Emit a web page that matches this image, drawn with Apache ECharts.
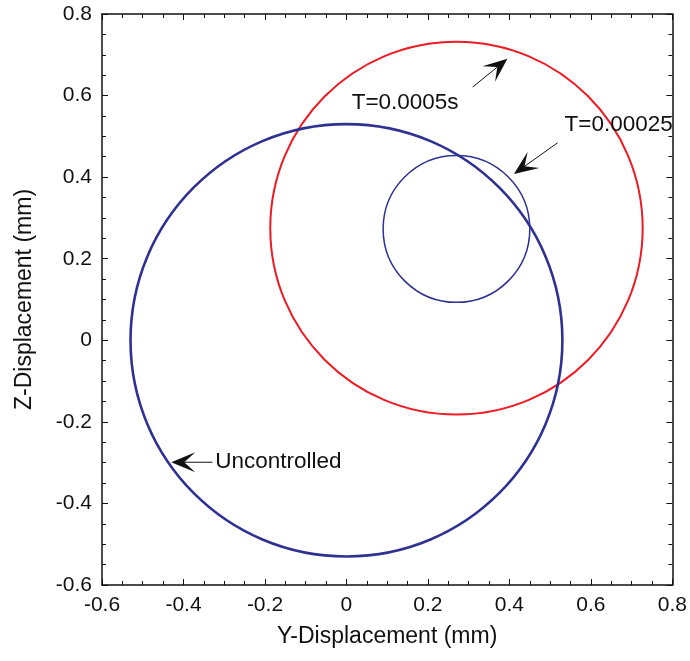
<!DOCTYPE html>
<html>
<head>
<meta charset="utf-8">
<script src="https://cdn.jsdelivr.net/npm/echarts@6/dist/echarts.min.js"></script>
<style>
  html, body { margin: 0; padding: 0; background: #fff; }
  #chart { width: 690px; height: 661px; }
</style>
</head>
<body>
<div id="chart"></div>
<script>
// Orbits of the shaft centre: each one is a circle given by its centre and radius (mm)
const orbitNames = ['T=0.0005s', 'T=0.00025', 'Uncontrolled'];
const centerY = [0.27, 0.27, 0.0];      // Y-displacement of orbit centre
const centerZ = [0.275, 0.273, 0.0];    // Z-displacement of orbit centre
const radius = [0.457, 0.18, 0.53];
const orbitColors = ['#ED1C24', '#2E3192', '#2E3192'];
const orbitWidths = [2, 1.5, 2.6];

// Axis range and tick spacing
const axisMin = -0.6;
const axisMax = 0.8;
const tickStep = 0.2;

// Callouts: arrow tail (y, z), arrow tip (y, z), text anchor (y, z), text, alignment
const arrowTail = [[0.310, 0.621], [0.518, 0.484], [-0.329, -0.299]];
const arrowTip = [[0.395, 0.690], [0.411, 0.408], [-0.430, -0.299]];
const calloutText = ['T=0.0005s', 'T=0.00025', 'Uncontrolled'];
const calloutAnchor = [[0.144, 0.582], [0.668, 0.528], [-0.322, -0.299]];
const calloutAlign = ['center', 'center', 'left'];

const FONT = '"Liberation Sans", Arial, Helvetica, sans-serif';
const INK = '#111';

const chart = echarts.init(document.getElementById('chart'), null, { renderer: 'canvas' });

function baseAxis(extra) {
  return Object.assign({
    type: 'value',
    min: axisMin,
    max: axisMax,
    interval: tickStep,
    splitLine: { show: false },
    axisLine: { show: true, onZero: false, lineStyle: { color: INK, width: 1.5 } },
    axisTick: { show: true, inside: true, length: 6, lineStyle: { color: INK, width: 1 } },
    minorTick: { show: true, splitNumber: 4, length: 4, lineStyle: { color: INK, width: 1 } },
    minorSplitLine: { show: false }
  }, extra);
}

const orbitSeries = orbitNames.map(function (name, i) {
  return {
    name: name,
    type: 'custom',
    xAxisIndex: 0,
    yAxisIndex: 0,
    clip: false,
    z: 2 + i,
    data: [[centerY[i], centerZ[i], radius[i]]],
    renderItem: function (params, api) {
      const c = api.coord([api.value(0), api.value(1)]);
      const r = api.value(2);
      const rx = api.size([r, 0])[0];
      const ry = api.size([0, r])[1];
      return {
        type: 'ellipse',
        shape: { cx: c[0], cy: c[1], rx: rx, ry: ry },
        style: { fill: 'none', stroke: orbitColors[i], lineWidth: orbitWidths[i] }
      };
    }
  };
});

// Arrow callouts with a swept, filled arrowhead
const calloutSeries = {
  type: 'custom',
  name: 'callouts',
  xAxisIndex: 0,
  yAxisIndex: 0,
  clip: false,
  z: 10,
  silent: true,
  data: arrowTail.map(function (t, i) {
    return [t[0], t[1], arrowTip[i][0], arrowTip[i][1], calloutAnchor[i][0], calloutAnchor[i][1], i];
  }),
  renderItem: function (params, api) {
    const p1 = api.coord([api.value(0), api.value(1)]);
    const p2 = api.coord([api.value(2), api.value(3)]);
    const pt = api.coord([api.value(4), api.value(5)]);
    const idx = api.value(6);
    const dx = p2[0] - p1[0], dy = p2[1] - p1[1];
    const len = Math.sqrt(dx * dx + dy * dy);
    const ux = dx / len, uy = dy / len;
    const nx = -uy, ny = ux;
    const L = 24, W = 10, N = 13;
    const back = [p2[0] - ux * L, p2[1] - uy * L];
    const notch = [p2[0] - ux * N, p2[1] - uy * N];
    return {
      type: 'group',
      children: [
        {
          type: 'line',
          shape: { x1: p1[0], y1: p1[1], x2: notch[0], y2: notch[1] },
          style: { stroke: INK, lineWidth: 1 }
        },
        {
          type: 'polygon',
          shape: { points: [
            [p2[0], p2[1]],
            [back[0] + nx * W, back[1] + ny * W],
            [notch[0], notch[1]],
            [back[0] - nx * W, back[1] - ny * W]
          ] },
          style: { fill: INK, stroke: 'none' }
        },
        {
          type: 'text',
          x: pt[0],
          y: pt[1],
          style: {
            text: calloutText[idx],
            fill: INK,
            font: '22.5px ' + FONT,
            align: calloutAlign[idx],
            verticalAlign: 'middle'
          }
        }
      ]
    };
  }
};

chart.setOption({
  animation: false,
  backgroundColor: '#fff',
  grid: { left: 102, right: 14, top: 14, bottom: 76, containLabel: false },
  xAxis: [
    baseAxis({
      position: 'bottom',
      name: 'Y-Displacement (mm)',
      nameLocation: 'middle',
      nameGap: 40,
      nameTextStyle: { color: INK, fontSize: 23, fontFamily: FONT },
      axisLabel: { show: true, margin: 10, color: INK, fontSize: 21, fontFamily: FONT, showMinLabel: true, showMaxLabel: true }
    }),
    baseAxis({ position: 'top', axisLabel: { show: false } })
  ],
  yAxis: [
    baseAxis({
      position: 'left',
      name: 'Z-Displacement (mm)',
      nameLocation: 'middle',
      nameGap: 66,
      nameRotate: 90,
      nameTextStyle: { color: INK, fontSize: 23, fontFamily: FONT },
      axisLabel: { show: true, margin: 10, color: INK, fontSize: 21, fontFamily: FONT, showMinLabel: true, showMaxLabel: true }
    }),
    baseAxis({ position: 'right', axisLabel: { show: false } })
  ],
  series: orbitSeries.concat([calloutSeries])
});
</script>
</body>
</html>
